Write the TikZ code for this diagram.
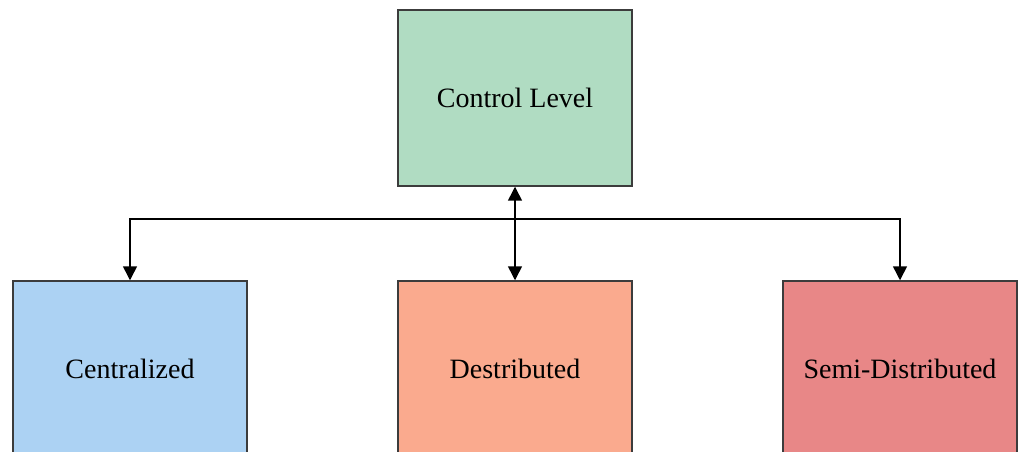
\documentclass[tikz,border=0pt]{standalone}
\usepackage{fontspec}
\setmainfont{Liberation Serif}
\usetikzlibrary{arrows.meta,positioning}
\definecolor{ctrlgreen}{RGB}{176,220,194}
\definecolor{centblue}{RGB}{172,210,243}
\definecolor{distorange}{RGB}{250,170,142}
\definecolor{semired}{RGB}{232,135,135}
\definecolor{edgegray}{RGB}{60,60,60}
\tikzset{>={Triangle[length=10.5pt,width=10.5pt]}}
\tikzset{levelbox/.style={draw=edgegray, line width=1.1pt, minimum width=175.5pt, minimum height=132pt, inner sep=0pt, font=\fontsize{21}{25}\selectfont}}

\begin{document}
\begin{tikzpicture}[x=0.75pt,y=-0.75pt]
    \clip (0,0) rectangle (1019,452);
    % boxes
    \node[levelbox, fill=ctrlgreen] (ctrl) at (515,98) {Control Level};
    \node[levelbox, fill=centblue] (cent) at (130,369) {Centralized};
    \node[levelbox, fill=distorange] (dist) at (515,369) {Destributed};
    \node[levelbox, fill=semired] (semi) at (900,369) {Semi-Distributed};
    % connectors
    \coordinate (bus) at (515,219);
    \draw[<->, line width=1.1pt] (ctrl.south) -- (dist.north);
    \draw[->, line width=1.1pt] (bus) -| (cent.north);
    \draw[->, line width=1.1pt] (bus) -| (semi.north);
\end{tikzpicture}
\end{document}
